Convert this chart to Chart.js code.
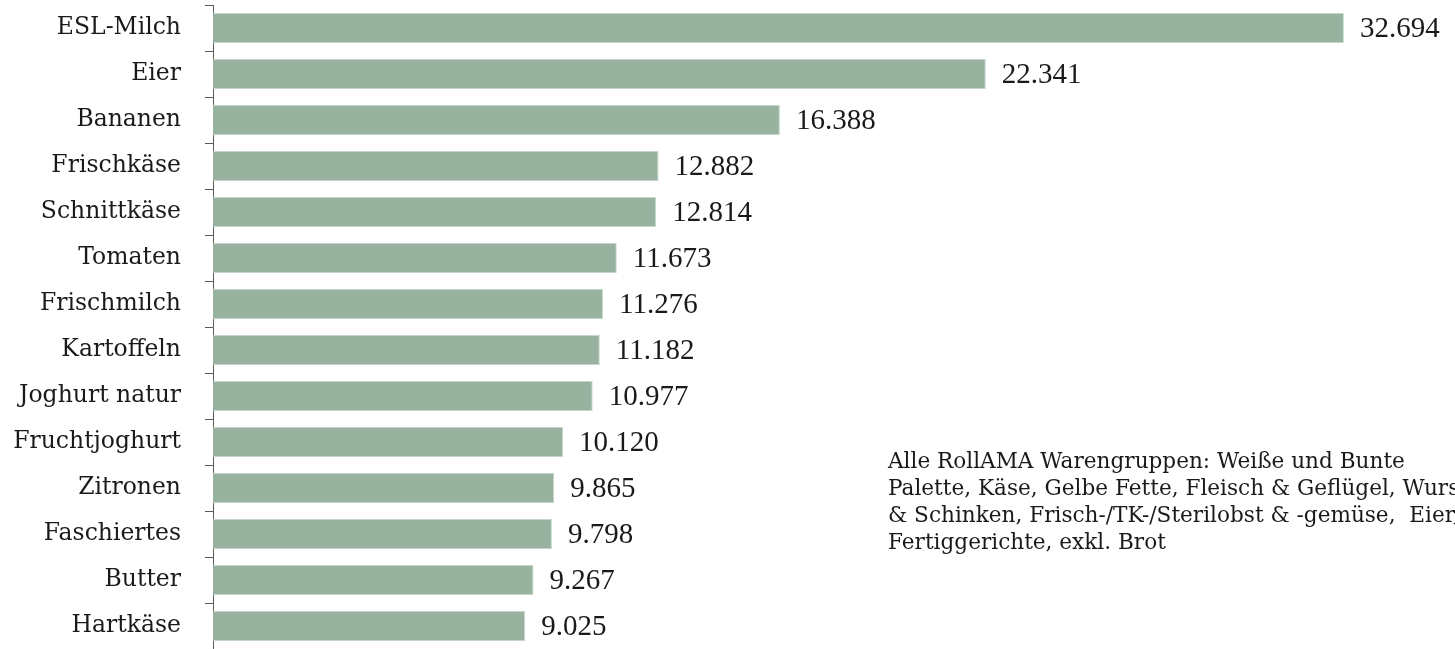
<!DOCTYPE html>
<html>
<head>
<meta charset="utf-8">
<script src="https://cdn.jsdelivr.net/npm/chart.js@4"></script>
<style>
  html, body { margin: 0; padding: 0; background: #fff; overflow: hidden; }
  #wrap { position: relative; width: 1455px; height: 649px; overflow: hidden; }
  #note {
    position: absolute; left: 888px; top: 447px;
    font-family: 'DejaVu Serif', serif; font-size: 21.6px; line-height: 27px;
    color: #1a1a1a; white-space: nowrap;
  }
</style>
</head>
<body>
<div id="wrap">
  <canvas id="barChart" width="1455" height="649"></canvas>
  <div id="note">Alle RollAMA Warengruppen: Weiße und Bunte<br>Palette, Käse, Gelbe Fette, Fleisch &amp; Geflügel, Wurst<br>&amp; Schinken, Frisch-/TK-/Sterilobst &amp; -gemüse,&nbsp; Eier,<br>Fertiggerichte, exkl. Brot</div>
</div>
<script>
// data
const categories = ['ESL-Milch', 'Eier', 'Bananen', 'Frischkäse', 'Schnittkäse', 'Tomaten', 'Frischmilch',
    'Kartoffeln', 'Joghurt natur', 'Fruchtjoghurt', 'Zitronen', 'Faschiertes', 'Butter', 'Hartkäse'];
const values = [32694, 22341, 16388, 12882, 12814, 11673, 11276, 11182, 10977, 10120, 9865, 9798, 9267, 9025];

// value labels right of the bars, German thousands separator
const valueLabels = {
    id: 'valueLabels',
    afterDatasetsDraw(chart) {
        const ctx = chart.ctx;
        const meta = chart.getDatasetMeta(0);
        ctx.save();
        ctx.font = '29px "Liberation Serif", serif';
        ctx.fillStyle = '#1a1a1a';
        ctx.textAlign = 'left';
        ctx.textBaseline = 'alphabetic';
        meta.data.forEach((bar, i) => {
            const txt = values[i].toLocaleString('de-DE');
            ctx.fillText(txt, bar.x + 16, bar.y + 9);
        });
        ctx.restore();
    }
};

const ctx = document.getElementById('barChart').getContext('2d');
new Chart(ctx, {
    type: 'bar',
    data: {
        labels: categories,
        datasets: [{
            data: values,
            backgroundColor: '#97b3a0',
            borderColor: '#c9d9cd',
            borderWidth: 1,
            categoryPercentage: 1,
            barPercentage: 0.66
        }]
    },
    options: {
        indexAxis: 'y',
        responsive: false,
        animation: false,
        layout: { padding: { top: 5, bottom: 0, left: 0, right: 0 } },
        plugins: {
            legend: { display: false },
            tooltip: { enabled: false }
        },
        scales: {
            x: {
                display: false,
                min: 0,
                max: 35905
            },
            y: {
                afterFit: (scale) => {
                    scale.width = 213;
                    scale.paddingTop = 0;
                    scale.paddingBottom = 0;
                },
                grid: {
                    offset: true,
                    drawOnChartArea: false,
                    drawTicks: true,
                    tickLength: 8,
                    color: '#5a5a5a'
                },
                border: { display: true, color: '#5a5a5a', width: 1 },
                ticks: {
                    padding: 24,
                    color: '#1a1a1a',
                    font: { family: '"DejaVu Serif", serif', size: 23.5 }
                }
            }
        }
    },
    plugins: [valueLabels]
});
</script>
</body>
</html>
